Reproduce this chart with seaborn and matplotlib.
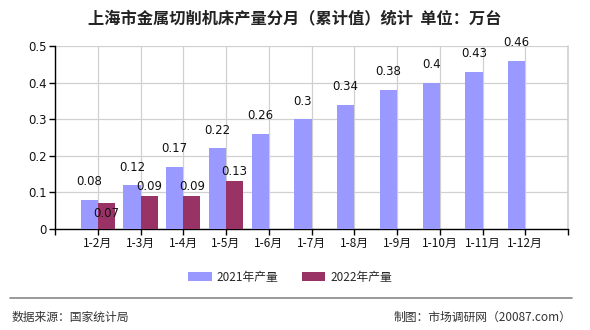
import matplotlib
matplotlib.use("Agg")
import matplotlib.pyplot as plt
import seaborn as sns
import pandas as pd
import numpy as np

# 累计产量（万台）
months = ["1-2月", "1-3月", "1-4月", "1-5月", "1-6月", "1-7月",
          "1-8月", "1-9月", "1-10月", "1-11月", "1-12月"]
output_2021 = [0.08, 0.12, 0.17, 0.22, 0.26, 0.3, 0.34, 0.38, 0.4, 0.43, 0.46]
output_2022 = [0.07, 0.09, 0.09, 0.13]
label_2021 = ["0.08", "0.12", "0.17", "0.22", "0.26", "0.3", "0.34", "0.38", "0.4", "0.43", "0.46"]
label_2022 = ["0.07", "0.09", "0.09", "0.13"]
series_names = ["2021年产量", "2022年产量"]
colors = ["#9999FF", "#993366"]

sns.set_theme(style="white")
plt.rcParams["font.family"] = ["Noto Sans CJK SC", "DejaVu Sans"]

fig = plt.figure(figsize=(5.9, 3.3), dpi=100)
ax = fig.add_axes([55 / 590, 1 - 229 / 330, 513 / 590, 183 / 330])

df = pd.DataFrame({
    "pos": list(range(1, len(output_2021) + 1)) + list(range(1, len(output_2022) + 1)),
    "value": output_2021 + output_2022,
    "series": [series_names[0]] * len(output_2021) + [series_names[1]] * len(output_2022),
})

w = 0.4
for i, (name, col) in enumerate(zip(series_names, colors)):
    sub = df[df["series"] == name]
    shift = -w / 2 if i == 0 else w / 2
    ax.bar(sub["pos"] + shift, sub["value"], width=w, color=col, label=name,
           linewidth=0, edgecolor="none", zorder=3)

# value labels
for k, (v, t) in enumerate(zip(output_2021, label_2021)):
    ax.annotate(t, (k + 1 - w / 2, v), xytext=(0, 13), textcoords="offset points",
                ha="center", va="center", fontsize=8.5, color="#111111", zorder=4,
                family=["DejaVu Sans"])
for k, (v, t) in enumerate(zip(output_2022, label_2022)):
    dy = -7 if k == 0 else 7
    ax.annotate(t, (k + 1 + w / 2, v), xytext=(0, dy), textcoords="offset points",
                ha="center", va="center", fontsize=8.5, color="#111111", zorder=4,
                family=["DejaVu Sans"])

ax.set_xlim(0, 12)
ax.set_ylim(0, 0.5)
ax.set_yticks(np.arange(0, 0.51, 0.1))
ax.set_yticklabels(["0", "0.1", "0.2", "0.3", "0.4", "0.5"], fontsize=8.5, family=["DejaVu Sans"])
ax.set_xticks(range(0, 13))
ax.set_xticklabels([""] + months + [""], fontsize=8.5)
ax.grid(True, color="#D0D0D0", linewidth=0.9, zorder=0)
ax.axvline(12, color="#D0D0D0", linewidth=1.2, zorder=0, clip_on=False)
ax.tick_params(axis="both", which="both", length=4, width=1, color="black",
               direction="out", pad=2, labelcolor="#111111")
ax.tick_params(axis="both", left=True, bottom=True)
for s in ["top", "right"]:
    ax.spines[s].set_visible(False)
ax.spines["left"].set_color("black")
ax.spines["bottom"].set_color("black")
ax.spines["left"].set_linewidth(1)
ax.spines["bottom"].set_linewidth(1)
ax.set_xlabel("")
ax.set_ylabel("")

fig.text(295 / 590, 1 - 18 / 330, "上海市金属切削机床产量分月（累计值）统计  单位：万台",
         ha="center", va="center", fontsize=11.7, fontweight="bold", color="#222222")

leg = fig.legend(loc="center", bbox_to_anchor=(290 / 590, 1 - 277 / 330), ncol=2,
                 frameon=False, fontsize=8.5, handlelength=2.0, handleheight=0.8,
                 columnspacing=2.0, handletextpad=0.4)

fig.add_artist(plt.Line2D([10 / 590, 572 / 590], [1 - 298 / 330, 1 - 298 / 330],
                          color="#888888", linewidth=1.2))
fig.text(12 / 590, 1 - 317 / 330, "数据来源：国家统计局", ha="left", va="center",
         fontsize=8.5, color="#333333")
fig.text(571 / 590, 1 - 317 / 330, "制图：市场调研网（20087.com）", ha="right", va="center",
         fontsize=8.5, color="#333333")

fig.savefig("out.png", dpi=100)
